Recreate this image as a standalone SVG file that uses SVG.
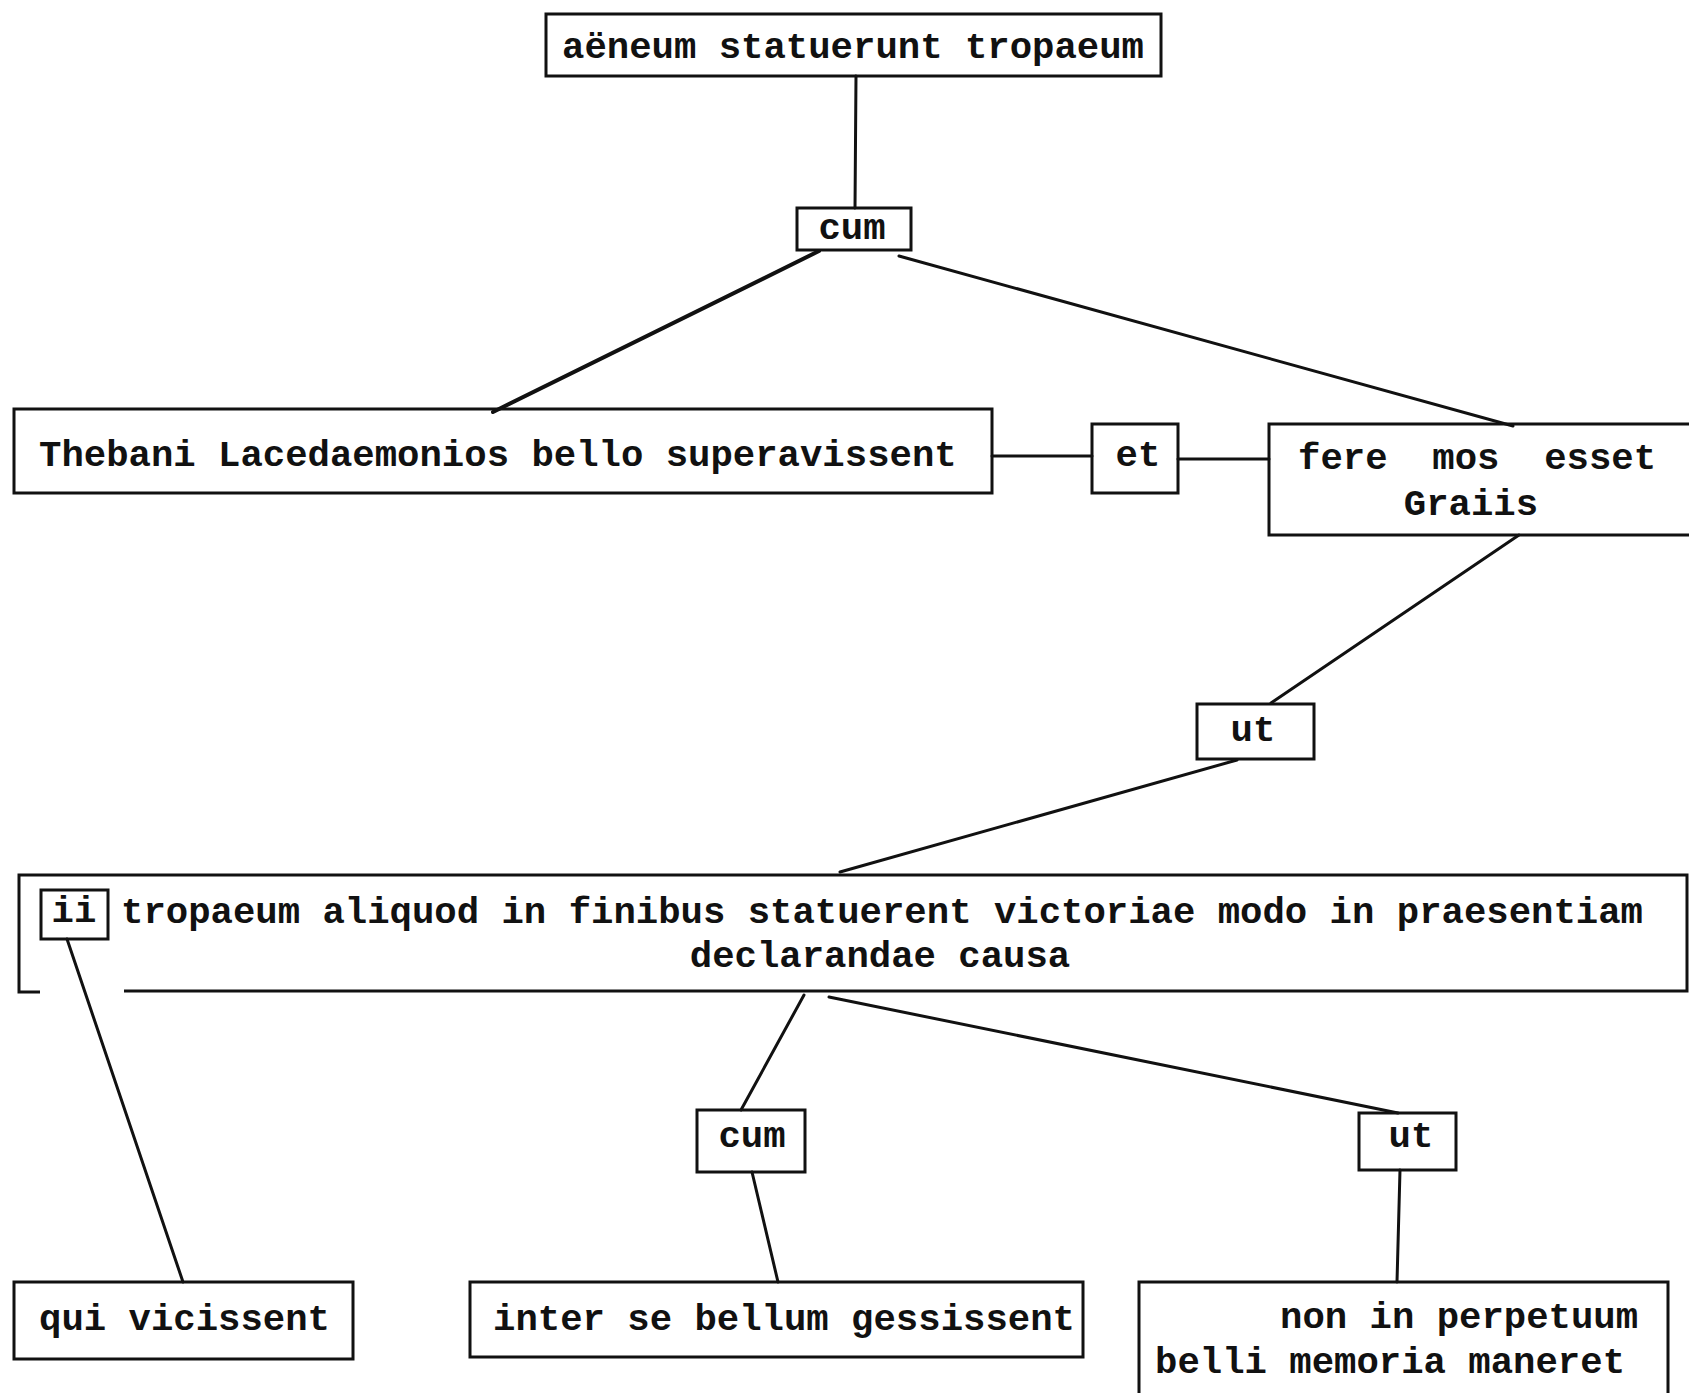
<svg xmlns="http://www.w3.org/2000/svg" width="1689" height="1393" viewBox="0 0 1689 1393">
<style>
.box{fill:none;stroke:#111;stroke-width:3}
.ln{fill:none;stroke:#111;stroke-width:3;stroke-linecap:round}
.thick{stroke-width:4}
.t{font-family:"Liberation Mono","DejaVu Sans Mono",monospace;font-size:37.3px;font-weight:bold;fill:#111}
.m{text-anchor:middle}
</style>
<rect width="1689" height="1393" fill="#fff"/>
<g id="connectors">
<line class="ln" x1="856" y1="76" x2="855" y2="208"/>
<line class="ln thick" x1="819" y1="251" x2="493" y2="412"/>
<line class="ln" x1="899" y1="256" x2="1513" y2="426"/>
<line class="ln" x1="992" y1="456" x2="1092" y2="456"/>
<line class="ln" x1="1178" y1="459" x2="1269" y2="459"/>
<line class="ln" x1="1519" y1="535" x2="1271" y2="703"/>
<line class="ln" x1="1237" y1="760" x2="840" y2="872"/>
<line class="ln" x1="67" y1="939" x2="183" y2="1282"/>
<line class="ln" x1="804" y1="995" x2="741" y2="1110"/>
<line class="ln" x1="829" y1="997" x2="1398" y2="1113"/>
<line class="ln" x1="752" y1="1172" x2="778" y2="1282"/>
<line class="ln" x1="1400" y1="1170" x2="1397" y2="1282"/>
</g>
<g id="n-aeneum">
<rect class="box" x="546" y="14" width="615" height="62"/>
<text class="t m" x="853" y="58">aëneum statuerunt tropaeum</text>
</g>
<g id="n-cum1">
<rect class="box" x="797" y="208" width="114" height="42"/>
<text class="t m" x="852" y="239">cum</text>
</g>
<g id="n-thebani">
<rect class="box" x="14" y="409" width="978" height="84"/>
<text class="t" x="39" y="466">Thebani Lacedaemonios bello superavissent</text>
</g>
<g id="n-et">
<rect class="box" x="1092" y="424" width="86" height="69"/>
<text class="t m" x="1138" y="466">et</text>
</g>
<g id="n-fere">
<path class="box" d="M1692 424 H1269 V535 H1692"/>
<text class="t" x="1298" y="469" xml:space="preserve">fere  mos  esset</text>
<text class="t m" x="1471" y="515">Graiis</text>
</g>
<g id="n-ut1">
<rect class="box" x="1197" y="704" width="117" height="55"/>
<text class="t m" x="1253" y="741">ut</text>
</g>
<g id="n-tropaeum">
<path class="box" d="M40 992 H19 V875 H1687 V991 H124"/>
<text class="t" x="121" y="923">tropaeum aliquod in finibus statuerent victoriae modo in praesentiam</text>
<text class="t m" x="880" y="967">declarandae causa</text>
</g>
<g id="n-ii">
<rect class="box" x="41" y="890" width="67" height="49"/>
<text class="t m" x="74" y="922">ii</text>
</g>
<g id="n-cum2">
<rect class="box" x="697" y="1110" width="108" height="62"/>
<text class="t m" x="752" y="1147">cum</text>
</g>
<g id="n-ut2">
<rect class="box" x="1359" y="1113" width="97" height="57"/>
<text class="t m" x="1411" y="1147">ut</text>
</g>
<g id="n-qui">
<rect class="box" x="14" y="1282" width="339" height="77"/>
<text class="t" x="39" y="1330">qui vicissent</text>
</g>
<g id="n-inter">
<rect class="box" x="470" y="1282" width="613" height="75"/>
<text class="t" x="493" y="1330">inter se bellum gessissent</text>
</g>
<g id="n-non">
<path class="box" d="M1139 1396 V1282 H1668 V1396"/>
<text class="t" x="1280" y="1328">non in perpetuum</text>
<text class="t" x="1155" y="1373">belli memoria maneret</text>
</g>
</svg>
